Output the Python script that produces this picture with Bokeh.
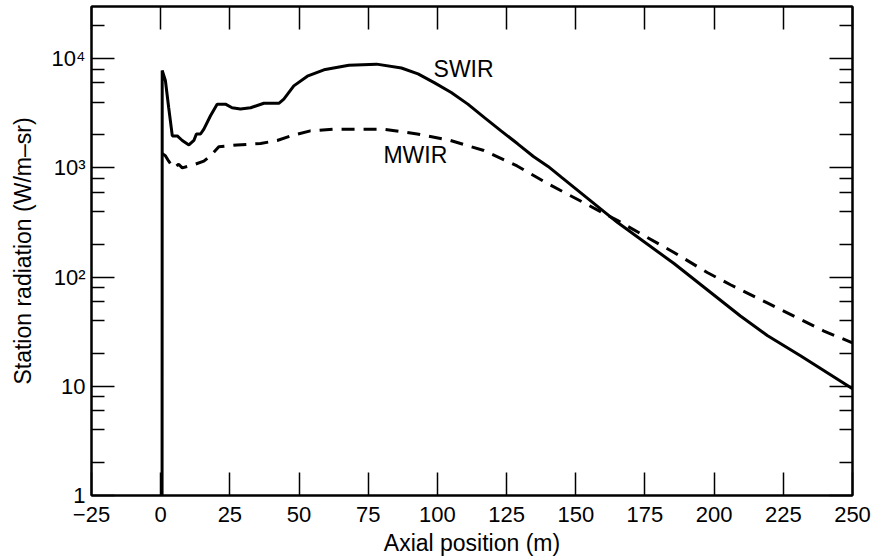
from bokeh.plotting import figure
from bokeh.models import FixedTicker, LinearAxis, LogAxis, Label, Range1d
from bokeh.embed import file_html
from bokeh.resources import INLINE

# ---- data ----
swir_x = [0.5, 0.55, 1.7, 2.9, 4.2, 6.0, 7.8, 10.2, 12.0, 12.9, 14.4, 15.6, 18.0, 20.4,
          23.4, 25.8, 28.8, 32.5, 37.3, 42.7, 44.5, 48.1, 53.0, 59.0, 68.0, 78.0, 87.0,
          93.0, 99.0, 105.0, 111.0, 117.0, 123.0, 129.0, 134.7, 140.0, 145.0, 165.0,
          185.5, 209.5, 219.2, 231.2, 250.0]
swir_y = [0.5, 7800, 6300, 3550, 1960, 1960, 1780, 1620, 1780, 2040, 2040, 2260, 3000, 3830,
          3830, 3550, 3460, 3550, 3900, 3900, 4260, 5630, 6900, 7900, 8700, 8900, 8200,
          7240, 6000, 4900, 3830, 2880, 2180, 1660, 1270, 1030, 813, 317,
          133, 44, 29.2, 19, 9.5]

mwir_x = [0.5, 1.7, 2.9, 4.7, 6.5, 7.8, 12.0, 15.6, 18.0, 21.0, 27.6, 36.1, 42.1, 48.1,
          54.1, 63.0, 80.6, 92.7, 104.7, 116.8, 128.8, 139.7, 165.0, 173.4, 185.5,
          197.5, 205.9, 219.2, 239.7, 250.0]
mwir_y = [1350, 1290, 1150, 1000, 1080, 1000, 1070, 1150, 1290, 1560, 1620, 1670, 1780, 2000,
          2180, 2260, 2260, 2040, 1780, 1440, 1040, 720, 330, 250, 168,
          110, 85, 58, 32, 25]

x_ticks = [-25, 0, 25, 50, 75, 100, 125, 150, 175, 200, 225, 250]
y_major = [1, 10, 100, 1000, 10000]
y_minor = [m * d for d in [1, 10, 100, 1000, 10000] for m in [2, 4, 6, 8] if m * d < 30000]
y_labels = {1: "1", 10: "10", 100: "10\u00b2", 1000: "10\u00b3", 10000: "10\u2074"}

series_names = ["SWIR", "MWIR"]
label_pos = {"SWIR": (98.6, 7980), "MWIR": (80.5, 1303)}

FONT = "Liberation Sans"

p = figure(frame_width=761, frame_height=489, x_range=Range1d(-25, 250), y_range=Range1d(1, 30000),
           y_axis_type="log", output_backend="svg", toolbar_location=None,
           min_border_left=91, min_border_right=26, min_border_top=6, min_border_bottom=0)
p.grid.visible = False
p.outline_line_color = "black"
p.outline_line_width = 2
p.background_fill_color = "white"
p.border_fill_color = "white"

xt = FixedTicker(ticks=x_ticks)
yt = FixedTicker(ticks=y_major, minor_ticks=y_minor)

def style_axis(ax):
    ax.axis_line_color = "black"
    ax.axis_line_width = 2
    ax.major_tick_in = 23
    ax.major_tick_out = 0
    ax.major_tick_line_width = 1.5
    ax.minor_tick_in = 13
    ax.minor_tick_out = 0
    ax.minor_tick_line_width = 1.5
    ax.major_label_text_font = FONT
    ax.major_label_text_font_size = "22px"
    ax.major_label_text_color = "black"
    ax.axis_label_text_font = FONT
    ax.axis_label_text_font_size = "23px"
    ax.axis_label_text_font_style = "normal"
    ax.axis_label_text_color = "black"

xa = p.xaxis[0]
xa.ticker = xt
style_axis(xa)
xa.axis_label = "Axial position (m)"
xa.major_label_standoff = 11
xa.axis_label_standoff = 5

ya = p.yaxis[0]
ya.ticker = yt
style_axis(ya)
ya.axis_label = "Station radiation (W/m\u2013sr)"
ya.major_label_overrides = y_labels
ya.major_label_standoff = 6
ya.axis_label_standoff = 13

top = LinearAxis(ticker=xt)
style_axis(top)
top.major_label_text_font_size = "1px"
top.major_label_text_color = None
top.major_label_standoff = 0
p.add_layout(top, "above")

right = LogAxis(ticker=yt)
style_axis(right)
right.major_label_text_font_size = "1px"
right.major_label_text_color = None
right.major_label_standoff = 0
p.add_layout(right, "right")

p.line(swir_x, swir_y, line_color="black", line_width=3)
p.line(mwir_x, mwir_y, line_color="black", line_width=3, line_dash="13 9")

for name in series_names:
    lx, ly = label_pos[name]
    p.add_layout(Label(x=lx, y=ly, text=name, text_font=FONT, text_font_size="23px",
                       text_color="black", text_baseline="alphabetic", text_align="left"))

open("out.html", "w").write(file_html(p, INLINE))
